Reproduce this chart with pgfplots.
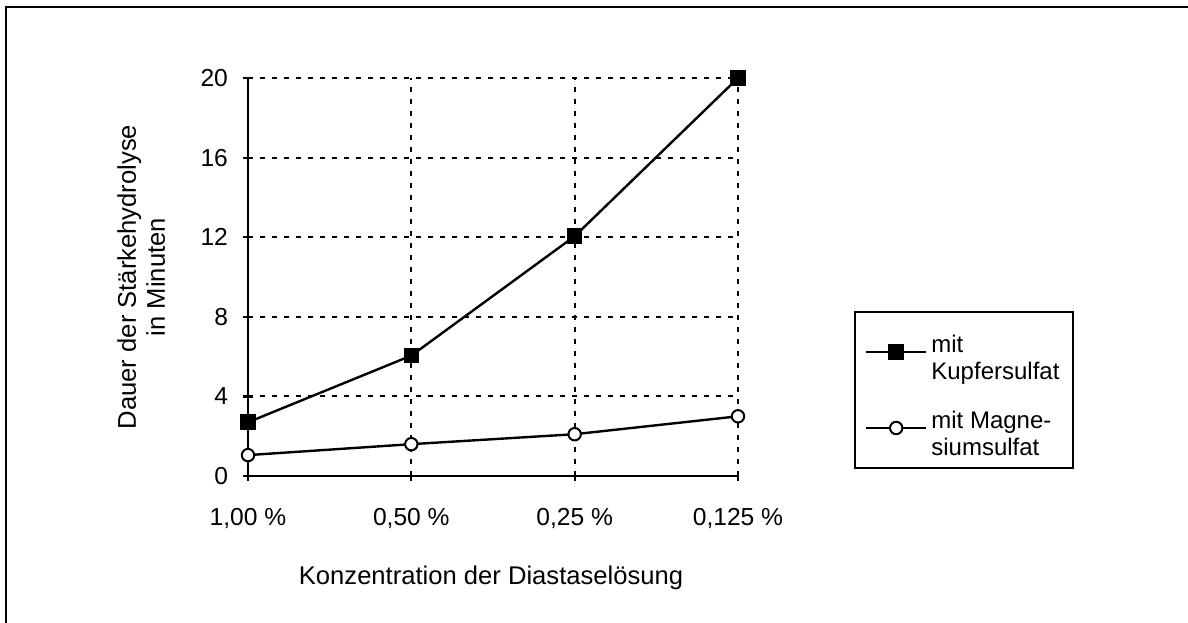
\documentclass[border=0pt]{standalone}
\usepackage{fontspec}
\setmainfont{Liberation Sans}
\usepackage{pgfplots}
\pgfplotsset{compat=1.18}
\begin{document}
\begin{tikzpicture}
\begin{axis}[
    scale only axis,
    width=245pt, height=199pt,
    xmin=0, xmax=3, ymin=0, ymax=20,
    axis x line=bottom, axis y line=left,
    axis line style={-, line width=1.1pt},
    xtick=data,
    xticklabels={{1,00 \%},{0,50 \%},{0,25 \%},{0,125 \%}},
    ytick={0,4,...,20},
    tick align=center,
    major tick length=5pt,
    tick style={line width=1.1pt, black},
    grid=major,
    major grid style={line width=1pt, black, dash pattern=on 2.5pt off 3.5pt},
    font=\fontsize{12.3}{13.5}\selectfont,
    /pgf/number format/assume math mode=true,
    yticklabel style={xshift=-4pt},
    xticklabel style={yshift=-10pt},
    xlabel={Konzentration der Diastaselösung},
    ylabel={Dauer der Stärkehydrolyse\\in Minuten},
    label style={font=\fontsize{12.8}{14.5}\selectfont},
    ylabel style={align=center, at={(axis description cs:-0.218,0.5)}, anchor=center},
    xlabel style={at={(axis description cs:0.496,-0.256)}, anchor=center},
    clip=false,
    legend cell align=left,
    legend style={at={(rel axis cs:1.2367,0.4146)}, anchor=north west,
        draw=black, line width=1pt, inner xsep=5pt, inner ysep=9pt,
        row sep=16pt, font=\fontsize{12}{13.5}\selectfont},
    legend image code/.code={
        \draw[mark repeat=2, mark phase=2, #1] plot coordinates {(0pt,0pt) (15pt,0pt) (30pt,0pt)};
    },
]
\addplot[black, line width=1.2pt, mark=square*, mark size=3.3pt, mark options={solid}]
    coordinates {(0,2.7) (1,6.05) (2,12.05) (3,20)};
\addlegendentry{\begin{tabular}{@{}l@{}}mit\\Kupfersulfat\end{tabular}}
\addplot[black, line width=1.2pt, mark=*, mark size=3.1pt, mark options={fill=white, line width=1pt}]
    coordinates {(0,1.05) (1,1.6) (2,2.1) (3,3.0)};
\addlegendentry{\begin{tabular}{@{}l@{}}mit Magne-\\siumsulfat\end{tabular}}
\end{axis}
\draw[line width=1.4pt] (-121pt,-80pt) -- (-121pt,234.5pt) -- (480pt,234.5pt);
\pgfresetboundingbox
\path[use as bounding box] (-124pt,-73pt) rectangle (470pt,238pt);
\end{tikzpicture}
\end{document}
